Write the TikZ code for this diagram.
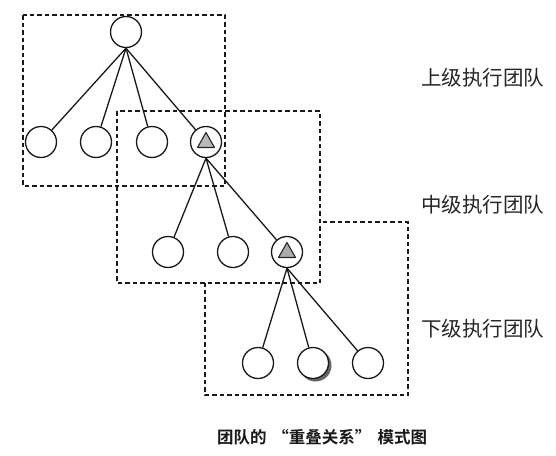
\documentclass[tikz,border=0pt]{standalone}
\usepackage{fontspec}
\newfontfamily\cjk{Noto Sans CJK SC}
\newfontfamily\cjkb{Noto Sans CJK SC Bold}
\begin{document}
\begin{tikzpicture}[x=1pt,y=-1pt,
  member/.style={circle,draw=black!90,line width=1.3pt,fill=white,minimum size=31pt,inner sep=0pt},
  teambox/.style={draw=black!90,line width=1.5pt,dash pattern=on 4.5pt off 3pt},
  link/.style={draw=black!90,line width=1.3pt},
  lab/.style={font=\cjk\fontsize{20.5}{22}\selectfont,text=black!85,anchor=west,inner sep=0pt},
  tri/.style={draw=black!85,line width=1.1pt,fill=gray!55,line join=round}]
\useasboundingbox (0,0) rectangle (556,455);
% team boxes
\fill[white] (205,222) rectangle (408,395);
\draw[teambox] (205,222) rectangle (408,395);
\fill[white] (117,111) rectangle (320,283);
\draw[teambox] (117,111) rectangle (320,283);
\draw[teambox] (23,15) rectangle (225,186);
% members
\node[member] (t) at (126,32) {};
\node[member] (a1) at (41,142) {};
\node[member] (a2) at (96,142) {};
\node[member] (a3) at (152,142) {};
\node[member] (a4) at (206,142) {};
\node[member] (b1) at (168,252) {};
\node[member] (b2) at (233,252) {};
\node[member] (b3) at (287,252) {};
\node[member] (c1) at (258,363) {};
\fill[black!60] (315.5,365.5) circle (16pt);
\node[member] (c2) at (313,363) {};
\node[member] (c3) at (368,363) {};
% triangles
\draw[tri] ([shift={(0,-9.5)}]a4.center) -- ([shift={(-8.5,5.5)}]a4.center) -- ([shift={(8.5,5.5)}]a4.center) -- cycle;
\draw[tri,fill=gray!65] ([shift={(0,-9.5)}]b3.center) -- ([shift={(-8.5,5.5)}]b3.center) -- ([shift={(8.5,5.5)}]b3.center) -- cycle;
% links
\foreach \c in {a1,a2,a3,a4} \draw[link] (t.south) -- (\c);
\foreach \c in {b1,b2,b3} \draw[link] (a4.south) -- (\c);
\foreach \c in {c1,c2,c3} \draw[link] (b3.south) -- (\c);
% labels
\node[lab] (l1) at (421,78) {上级执行团队};
\node[lab] (l2) at (421,205) {中级执行团队};
\node[lab] (l3) at (421,329) {下级执行团队};
\node[font=\cjkb\fontsize{16.5}{19}\selectfont,text=black!90,inner sep=0pt] (cap) at (322,437) {团队的\hspace{6pt}“重叠关系”\hspace{6pt}模式图};
\end{tikzpicture}
\end{document}
